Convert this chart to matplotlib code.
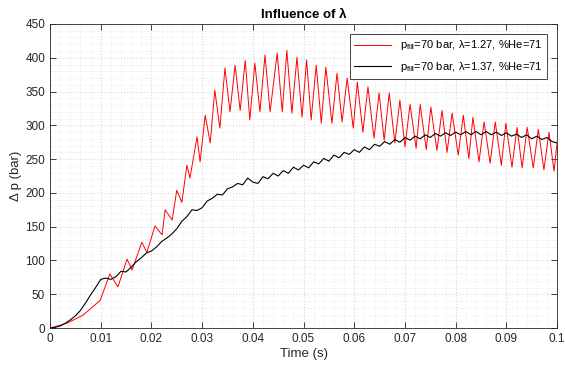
import numpy as np
import matplotlib.pyplot as plt
from matplotlib.ticker import MultipleLocator, FuncFormatter

plt.rcParams['font.family'] = ['Liberation Sans', 'DejaVu Sans']
plt.rcParams['mathtext.fontset'] = 'custom'
plt.rcParams['mathtext.rm'] = 'Liberation Sans'

# lambda = 1.27 run: turning points of the pressure trace
t_red = [0.0, 0.0033, 0.0065, 0.0099, 0.0118, 0.0134, 0.0152, 0.0162, 0.0181, 0.0191,
         0.0207, 0.0221, 0.0227, 0.0241, 0.0250, 0.0260, 0.0270, 0.0276, 0.0290, 0.0296,
         0.0306, 0.0316, 0.0325, 0.0335, 0.0345, 0.0355, 0.0365, 0.0375, 0.0385, 0.0394,
         0.0404, 0.0414, 0.0424, 0.0434, 0.0448, 0.0458, 0.0467, 0.0477, 0.0487, 0.0497,
         0.0506, 0.0515, 0.0525, 0.0535, 0.0544, 0.0556, 0.0566, 0.0576, 0.0586, 0.0598,
         0.0606, 0.0617, 0.0627, 0.0639, 0.0649, 0.0659, 0.0669, 0.0680, 0.0690, 0.0700,
         0.0710, 0.0722, 0.0730, 0.0742, 0.0751, 0.0763, 0.0773, 0.0783, 0.0793, 0.0805,
         0.0815, 0.0826, 0.0834, 0.0846, 0.0856, 0.0868, 0.0878, 0.0890, 0.0899, 0.0911,
         0.0921, 0.0931, 0.0941, 0.0953, 0.0963, 0.0974, 0.0984, 0.0994, 0.1000]
p_red = [0, 7, 19, 41, 80, 61, 102, 86, 127, 112,
         151, 138, 175, 160, 204, 186, 241, 222, 283, 246,
         315, 274, 352, 296, 385, 320, 389, 322, 396, 308,
         392, 320, 404, 320, 407, 320, 411, 318, 401, 312,
         397, 308, 389, 303, 386, 303, 377, 305, 370, 296,
         364, 290, 357, 281, 348, 278, 348, 274, 337, 268,
         331, 266, 331, 264, 327, 263, 322, 260, 318, 256,
         315, 251, 312, 246, 305, 244, 305, 241, 303, 238,
         297, 237, 297, 237, 294, 234, 290, 232, 275]

# lambda = 1.37 run, sampled every millisecond
t_black = np.arange(101) / 1000
p_black = [0, 1, 3, 7, 12, 18, 26, 37, 49, 60,
           72, 74, 72, 76, 84, 83, 90, 98, 104, 111,
           114, 120, 128, 133, 139, 147, 158, 165, 175, 174,
           178, 188, 192, 198, 197, 206, 209, 214, 212, 222,
           216, 214, 224, 221, 229, 225, 233, 229, 238, 234,
           241, 237, 246, 243, 251, 247, 256, 252, 260, 257,
           264, 260, 268, 264, 272, 269, 276, 272, 279, 275,
           282, 278, 284, 280, 286, 282, 288, 284, 289, 285,
           290, 286, 291, 286, 291, 286, 291, 286, 290, 285,
           289, 284, 287, 282, 286, 280, 284, 279, 282, 276,
           274]

labels = [r'p$_{\mathrm{fill}}$=70 bar, λ=1.27, %He=71',
          r'p$_{\mathrm{fill}}$=70 bar, λ=1.37, %He=71']

fig = plt.figure(figsize=(5.65, 3.69), dpi=100)
ax = fig.add_axes([0.0885, 0.111, 0.8975, 0.824])

ax.plot(t_red, p_red, color='red', lw=0.7, label=labels[0])
ax.plot(t_black, p_black, color='black', lw=0.8, label=labels[1])

ax.set_xlim(0, 0.1)
ax.set_ylim(0, 450)
ax.xaxis.set_major_locator(MultipleLocator(0.01))
ax.xaxis.set_minor_locator(MultipleLocator(0.002))
ax.yaxis.set_major_locator(MultipleLocator(50))
ax.yaxis.set_minor_locator(MultipleLocator(10))
ax.xaxis.set_major_formatter(FuncFormatter(lambda v, pos: '%g' % round(v, 3)))

ax.grid(which='major', color='#d9d9d9', ls=':', lw=0.8)
ax.grid(which='minor', color='#e6e6e6', ls=':', lw=0.6)
ax.set_axisbelow(True)

ax.tick_params(which='both', direction='in', top=True, right=True,
               colors='#262626', labelsize=8.5, width=0.6)
ax.tick_params(which='major', length=4)
ax.tick_params(which='minor', length=0)
for s in ax.spines.values():
    s.set_color('#262626')
    s.set_linewidth(0.6)

ax.set_xlabel('Time (s)', fontsize=9.5, color='#262626', labelpad=2)
ax.set_ylabel('Δ p (bar)', fontsize=9.5, color='#262626', labelpad=2)
ax.set_title('Influence of λ', fontsize=9.5, fontweight='bold', pad=4)

leg = ax.legend(loc='upper right', fontsize=8, handlelength=3.3,
                fancybox=False, framealpha=1, edgecolor='#262626',
                borderaxespad=0.9, labelspacing=0.7)
leg.get_frame().set_linewidth(0.6)

fig.savefig('out.png', dpi=100)
